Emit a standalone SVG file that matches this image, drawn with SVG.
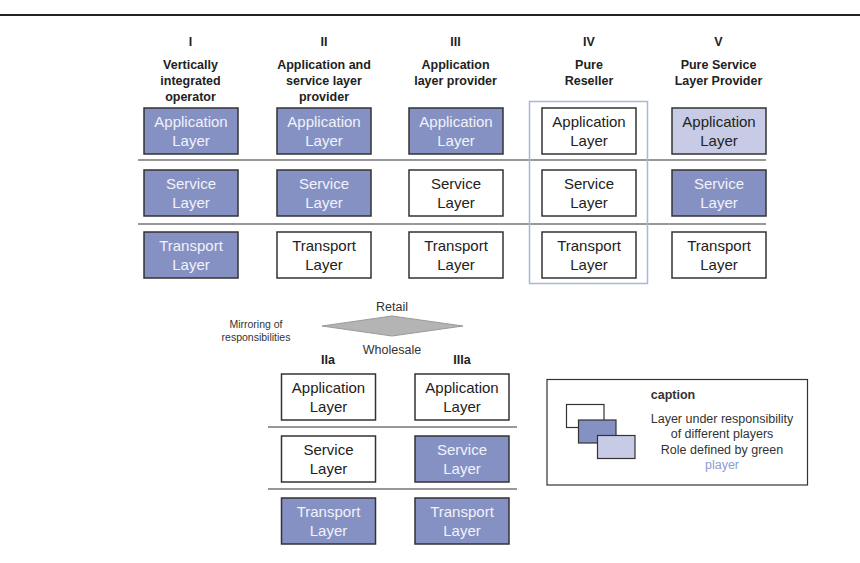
<svg xmlns="http://www.w3.org/2000/svg" width="860" height="563" viewBox="0 0 860 563">
<style>
  text { font-family: "Liberation Sans", Arial, sans-serif; text-anchor: middle; }
  .hd { font-size: 12.5px; font-weight: bold; fill: #222; }
  .bx { stroke: #333; stroke-width: 1.5; }
  .w { fill: #ffffff; }
  .d { fill: #8591c3; }
  .l { fill: #c8cbe5; }
  .t { font-size: 15px; fill: #222; }
  .td { font-size: 15px; fill: #f2f2fa; }
  .sep { stroke: #333; stroke-width: 1.2; }
  .sm { font-size: 10.5px; fill: #333; }
  .md { font-size: 12.5px; fill: #333; }
  .cap { font-size: 12.5px; fill: #333; }
</style>
<rect width="860" height="563" fill="#ffffff"/>
<line x1="0" y1="15" x2="860" y2="15" stroke="#222" stroke-width="2"/>

<!-- headers -->
<g id="headers">
  <text class="hd" x="190.5" y="46">I</text>
  <text class="hd" x="190.5" y="69">Vertically</text>
  <text class="hd" x="190.5" y="85">integrated</text>
  <text class="hd" x="190.5" y="101">operator</text>
  <text class="hd" x="324" y="46">II</text>
  <text class="hd" x="324" y="69">Application and</text>
  <text class="hd" x="324" y="85">service layer</text>
  <text class="hd" x="324" y="101">provider</text>
  <text class="hd" x="455.5" y="46">III</text>
  <text class="hd" x="455.5" y="69">Application</text>
  <text class="hd" x="455.5" y="85">layer provider</text>
  <text class="hd" x="589" y="46">IV</text>
  <text class="hd" x="589" y="69">Pure</text>
  <text class="hd" x="589" y="85">Reseller</text>
  <text class="hd" x="718.5" y="46">V</text>
  <text class="hd" x="718.5" y="69">Pure Service</text>
  <text class="hd" x="718.5" y="85">Layer Provider</text>
</g>

<g id="connectors">
  <line class="sep" x1="138" y1="160" x2="766" y2="160"/>
  <line class="sep" x1="138" y1="224" x2="766" y2="224"/>
  <line class="sep" x1="268" y1="427" x2="517" y2="427"/>
  <line class="sep" x1="268" y1="489" x2="517" y2="489"/>
</g>

<!-- frame IV -->
<rect id="frame-IV" x="529.5" y="101.5" width="118" height="182" fill="none" stroke="#a9b6dc" stroke-width="1.5"/>

<!-- Column I -->
<g id="I-app"><rect class="bx d" x="144" y="108" width="94" height="46"/><text class="td" x="191" y="127">Application</text><text class="td" x="191" y="146">Layer</text></g>
<g id="I-svc"><rect class="bx d" x="144" y="170" width="94" height="46"/><text class="td" x="191" y="189">Service</text><text class="td" x="191" y="208">Layer</text></g>
<g id="I-trn"><rect class="bx d" x="144" y="232" width="94" height="46"/><text class="td" x="191" y="251">Transport</text><text class="td" x="191" y="270">Layer</text></g>
<!-- Column II -->
<g id="II-app"><rect class="bx d" x="277" y="108" width="94" height="46"/><text class="td" x="324" y="127">Application</text><text class="td" x="324" y="146">Layer</text></g>
<g id="II-svc"><rect class="bx d" x="277" y="170" width="94" height="46"/><text class="td" x="324" y="189">Service</text><text class="td" x="324" y="208">Layer</text></g>
<g id="II-trn"><rect class="bx w" x="277" y="232" width="94" height="46"/><text class="t" x="324" y="251">Transport</text><text class="t" x="324" y="270">Layer</text></g>
<!-- Column III -->
<g id="III-app"><rect class="bx d" x="409" y="108" width="94" height="46"/><text class="td" x="456" y="127">Application</text><text class="td" x="456" y="146">Layer</text></g>
<g id="III-svc"><rect class="bx w" x="409" y="170" width="94" height="46"/><text class="t" x="456" y="189">Service</text><text class="t" x="456" y="208">Layer</text></g>
<g id="III-trn"><rect class="bx w" x="409" y="232" width="94" height="46"/><text class="t" x="456" y="251">Transport</text><text class="t" x="456" y="270">Layer</text></g>
<!-- Column IV -->
<g id="IV-app"><rect class="bx w" x="542" y="108" width="94" height="46"/><text class="t" x="589" y="127">Application</text><text class="t" x="589" y="146">Layer</text></g>
<g id="IV-svc"><rect class="bx w" x="542" y="170" width="94" height="46"/><text class="t" x="589" y="189">Service</text><text class="t" x="589" y="208">Layer</text></g>
<g id="IV-trn"><rect class="bx w" x="542" y="232" width="94" height="46"/><text class="t" x="589" y="251">Transport</text><text class="t" x="589" y="270">Layer</text></g>
<!-- Column V -->
<g id="V-app"><rect class="bx l" x="672" y="108" width="94" height="46"/><text class="t" x="719" y="127">Application</text><text class="t" x="719" y="146">Layer</text></g>
<g id="V-svc"><rect class="bx d" x="672" y="170" width="94" height="46"/><text class="td" x="719" y="189">Service</text><text class="td" x="719" y="208">Layer</text></g>
<g id="V-trn"><rect class="bx w" x="672" y="232" width="94" height="46"/><text class="t" x="719" y="251">Transport</text><text class="t" x="719" y="270">Layer</text></g>

<!-- mirroring -->
<g id="mirror">
  <polygon points="322,326 392,316 463,326 392,336" fill="#b4b4b4" stroke="#9a9a9a" stroke-width="1"/>
  <text class="md" x="392" y="311">Retail</text>
  <text class="md" x="392" y="354">Wholesale</text>
  <text class="sm" x="256" y="327.5">Mirroring of</text>
  <text class="sm" x="256" y="340.5">responsibilities</text>
</g>
<text class="hd" x="328" y="363.5">IIa</text>
<text class="hd" x="462" y="363.5">IIIa</text>

<!-- Column IIa -->
<g id="IIa-app"><rect class="bx w" x="281.5" y="374" width="94" height="46"/><text class="t" x="328.5" y="393">Application</text><text class="t" x="328.5" y="412">Layer</text></g>
<g id="IIa-svc"><rect class="bx w" x="281.5" y="436" width="94" height="46"/><text class="t" x="328.5" y="455">Service</text><text class="t" x="328.5" y="474">Layer</text></g>
<g id="IIa-trn"><rect class="bx d" x="281.5" y="498" width="94" height="46"/><text class="td" x="328.5" y="517">Transport</text><text class="td" x="328.5" y="536">Layer</text></g>
<!-- Column IIIa -->
<g id="IIIa-app"><rect class="bx w" x="415" y="374" width="94" height="46"/><text class="t" x="462" y="393">Application</text><text class="t" x="462" y="412">Layer</text></g>
<g id="IIIa-svc"><rect class="bx d" x="415" y="436" width="94" height="46"/><text class="td" x="462" y="455">Service</text><text class="td" x="462" y="474">Layer</text></g>
<g id="IIIa-trn"><rect class="bx d" x="415" y="498" width="94" height="46"/><text class="td" x="462" y="517">Transport</text><text class="td" x="462" y="536">Layer</text></g>

<!-- caption -->
<g id="caption">
  <rect x="547" y="379.5" width="260.5" height="105.5" fill="#fff" stroke="#333" stroke-width="1.2"/>
  <text class="cap" x="673" y="398.5" font-weight="bold">caption</text>
  <rect x="566.5" y="404.5" width="37.5" height="23" fill="#fff" stroke="#333" stroke-width="1.2"/>
  <rect x="578.5" y="420" width="37.5" height="23" fill="#8591c3" stroke="#333" stroke-width="1.2"/>
  <rect x="597.5" y="435.5" width="37.5" height="23" fill="#c8cbe5" stroke="#333" stroke-width="1.2"/>
  <text class="cap" x="722" y="422.5">Layer under responsibility</text>
  <text class="cap" x="722" y="437.5">of different players</text>
  <text class="cap" x="722" y="454">Role defined by green</text>
  <text class="cap" x="722" y="468.5" style="fill:#8e9bd6">player</text>
</g>
</svg>
